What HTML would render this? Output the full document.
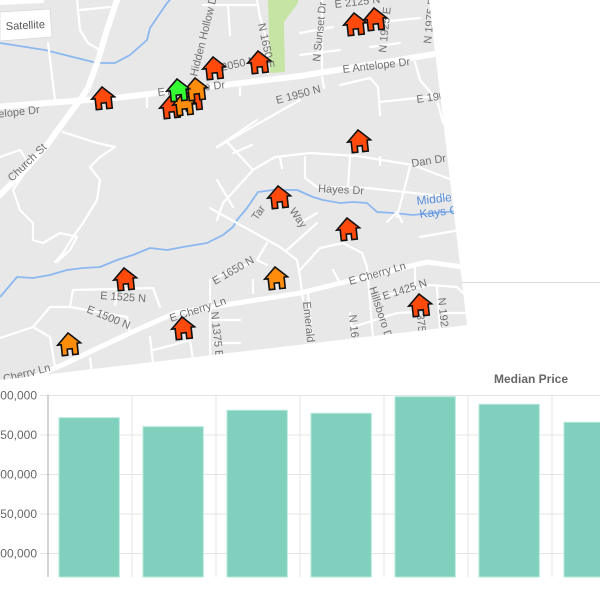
<!DOCTYPE html>
<html><head><meta charset="utf-8"><style>
html,body{margin:0;padding:0;background:#fff;width:600px;height:600px;overflow:hidden}
svg{display:block}
.ml{font-family:"Liberation Sans",sans-serif;font-size:11px;fill:#707070}
.rd{fill:none;stroke:#fff;stroke-width:2.2;stroke-linejoin:round;stroke-linecap:round}
.rw{fill:none;stroke:#fff;stroke-linejoin:round;stroke-linecap:round}
.st{fill:none;stroke:#8cb8f0;stroke-width:1.8;stroke-linejoin:round}
.h{stroke:#111;stroke-width:1.6;stroke-linejoin:miter}
.yl{font-family:"Liberation Sans",sans-serif;font-size:12px;fill:#666;text-anchor:end}
</style></head><body>
<svg width="600" height="600" viewBox="0 0 600 600" xmlns="http://www.w3.org/2000/svg">
<defs>
<clipPath id="m"><polygon points="0,0 429,0 467,325 0,380"/></clipPath>
</defs>
<rect x="0" y="0" width="600" height="600" fill="#fff"/>
<line x1="0" y1="282.5" x2="600" y2="282.5" stroke="#dcdcdc" stroke-width="1"/>

<g clip-path="url(#m)">
<rect x="0" y="0" width="600" height="600" fill="#e8e8e8"/>
<polygon points="268,0 298,0 298,3 284,22 285,72 270,73" fill="#c6e4a3"/>

<!-- streams -->
<polyline class="st" points="0,43 45,50 97,63 115,63 130,55 147,40 150,28 167,3 170,0"/>
<polyline class="st" points="0,297 17,277 33,278 50,275 67,270 83,268 100,267 117,260 133,255 150,248 167,250 183,247 207,243 223,235 233,227 237,220 247,208 258,192 273,190 297,190 313,197 323,200 340,203 353,202 367,203 377,212 393,213 413,215 433,213 470,210"/>

<!-- minor roads -->
<polyline class="rd" points="48,43 55,100"/>
<polyline class="rd" points="77,0 80,30 88,43 100,50"/>
<polyline class="rd" points="80,10 110,7"/>
<polyline class="rd" points="63,132 97,143 115,147 100,157 90,167 100,180 97,200 83,223 73,237 63,253 55,262"/>
<polyline class="rd" points="0,157 20,150 30,165 13,190 20,210 33,223 33,240 43,243 60,233 77,237 70,250 57,262"/>
<polyline class="rd" points="147,97 147,107"/>
<polyline class="rd" points="203,5 257,5"/>
<polyline class="rd" points="228,5 230,35"/>
<polyline class="rd" points="257,0 260,17 268,43 268,73"/>
<polyline class="rd" points="217,147 300,100"/>
<polyline class="rd" points="240,88 240,95"/>
<polyline class="rd" points="300,33 333,27"/>
<polyline class="rd" points="300,55 340,50"/>
<polyline class="rd" points="370,47 400,43"/>
<polyline class="rd" points="380,22 420,18"/>
<polyline class="rd" points="322,0 322,70"/>
<polyline class="rd" points="415,62 420,80 437,100 443,123"/>
<polyline class="rd" points="340,85 370,78 378,87 380,115"/>
<polyline class="rd" points="380,102 417,98 440,96"/>
<polyline class="rd" points="322,77 324,88"/>
<polyline class="rd" points="217,147 257,120"/>
<polyline class="rd" points="227,142 253,170 275,157 310,153 357,156 413,165 460,183"/>
<polyline class="rd" points="233,153 252,145"/>
<polyline class="rd" points="253,170 223,203 217,220"/>
<polyline class="rd" points="280,158 282,168"/>
<polyline class="rd" points="305,157 305,178 317,187 367,188 460,198"/>
<polyline class="rd" points="350,157 348,187"/>
<polyline class="rd" points="380,157 380,165"/>
<polyline class="rd" points="410,167 397,217"/>
<polyline class="rd" points="387,222 397,212 402,222"/>
<polyline class="rd" points="420,237 460,230"/>
<polyline class="rd" points="210,208 280,247 297,260 300,277 303,300"/>
<polyline class="rd" points="287,250 317,223"/>
<polyline class="rd" points="300,270 320,248 343,243 362,253 367,267 370,300 373,340"/>
<polyline class="rd" points="267,243 257,260 267,265"/>
<polyline class="rd" points="300,223 317,213"/>
<polyline class="rd" points="333,270 340,283"/>
<polyline class="rd" points="73,290 153,288 160,307"/>
<polyline class="rd" points="73,290 70,307 50,307 33,327 0,338"/>
<polyline class="rd" points="70,307 127,317 130,333"/>
<polyline class="rd" points="117,293 115,305"/>
<polyline class="rd" points="33,327 50,337 55,367"/>
<polyline class="rd" points="210,280 210,357"/>
<polyline class="rd" points="210,280 250,263"/>
<polyline class="rd" points="253,280 253,293"/>
<polyline class="rd" points="150,337 153,363"/>
<polyline class="rd" points="153,350 173,345 190,340 193,360"/>
<polyline class="rd" points="213,320 240,320"/>
<polyline class="rd" points="213,343 240,343"/>
<polyline class="rd" points="90,358 93,380"/>
<polyline class="rd" points="217,180 233,207"/>
<polyline class="rd" points="380,297 430,285 457,287 463,293"/>
<polyline class="rd" points="437,287 440,327"/>
<polyline class="rd" points="308,293 312,340"/>
<polyline class="rd" points="350,313 353,337"/>
<polyline class="rd" points="353,327 397,313 417,312"/>
<polyline class="rd" points="440,313 465,313"/>
<polyline class="rd" points="415,265 415,290"/>

<!-- major roads -->
<polyline class="rw" stroke-width="6" points="0,106.5 120,97.5 300,76 435,54 480,48"/>
<polyline class="rw" stroke-width="6" points="117,0 107,30 98,60 88,88 80,100 65,120 47,145 25,170 0,195"/>
<polyline class="rw" stroke-width="5" points="-10,396 60,366 130,333 175,313 300,293 427,262 470,268"/>

<!-- labels -->
<text class="ml" x="40" y="113" text-anchor="end" transform="rotate(-6.6 40 113)">E Antelope Dr</text>
<text class="ml" x="12" y="182" transform="rotate(-44 12 182)">Church St</text>
<text class="ml" x="158" y="96" transform="rotate(-6.6 158 96)">E Antelope Dr</text>
<text class="ml" x="197" y="77" transform="rotate(-76 197 77)">Hidden Hollow Dr</text>
<text class="ml" x="212" y="73" transform="rotate(-12 212 73)">E 2050 N</text>
<text class="ml" x="258" y="24" transform="rotate(78 258 24)">N 1650 E</text>
<text class="ml" x="335" y="8" transform="rotate(-6.6 335 8)">E 2125 N</text>
<text class="ml" x="320" y="62" transform="rotate(-84 320 62)">N Sunset Dr</text>
<text class="ml" x="386" y="53" transform="rotate(-84 386 53)">N 1925 E</text>
<text class="ml" x="431" y="44" transform="rotate(-84 431 44)">N 1975 E</text>
<text class="ml" x="343" y="73" transform="rotate(-6.6 343 73)">E Antelope Dr</text>
<text class="ml" x="277" y="104" transform="rotate(-15 277 104)">E 1950 N</text>
<text class="ml" x="417" y="103" transform="rotate(-8 417 103)">E 1900 N</text>
<text class="ml" x="412" y="167" transform="rotate(-9 412 167)">Dan Dr</text>
<text class="ml" x="318" y="192" transform="rotate(3 318 192)">Hayes Dr</text>
<text x="417" y="205" font-family="Liberation Sans, sans-serif" font-size="12" fill="#5a8fdc" transform="rotate(-6.6 417 205)">Middle</text>
<text x="420" y="218" font-family="Liberation Sans, sans-serif" font-size="12" fill="#5a8fdc" transform="rotate(-6.6 420 218)">Kays Creek</text>
<text class="ml" x="257" y="221" transform="rotate(-55 257 221)">Tar</text>
<text class="ml" x="289" y="211" transform="rotate(55 289 211)">Way</text>
<text class="ml" x="215" y="285" transform="rotate(-30 215 285)">E 1650 N</text>
<text class="ml" x="100" y="299" transform="rotate(4 100 299)">E 1525 N</text>
<text class="ml" x="86" y="312" transform="rotate(22 86 312)">E 1500 N</text>
<text class="ml" x="171" y="322" transform="rotate(-18 171 322)">E Cherry Ln</text>
<text class="ml" x="211" y="312" transform="rotate(84 211 312)">N 1375 E</text>
<text class="ml" x="-6" y="385" transform="rotate(-14 -6 385)">E Cherry Ln</text>
<text class="ml" x="350" y="285" transform="rotate(-16 350 285)">E Cherry Ln</text>
<text class="ml" x="384" y="300" transform="rotate(-18 384 300)">E 1425 N</text>
<text class="ml" x="303" y="302" transform="rotate(84 303 302)">Emerald</text>
<text class="ml" x="349" y="315" transform="rotate(84 349 315)">N 1600 E</text>
<text class="ml" x="369" y="288" transform="rotate(72 369 288)">Hillsboro Dr</text>
<text class="ml" x="416" y="308" transform="rotate(84 416 308)">1375 E</text>
<text class="ml" x="438" y="298" transform="rotate(84 438 298)">N 1925 E</text>

<!-- satellite button -->
<polygon points="0,0 44,0 44,3 0,5" fill="#fff"/>
<polygon points="0,12 50,9 52,37 0,41" fill="#fff" stroke="#d8d8d8" stroke-width="0.8"/>
<text x="6" y="30" font-family="Liberation Sans, sans-serif" font-size="11" fill="#555" transform="rotate(-3 6 30)">Satellite</text>
</g>

<!-- houses -->
<g id="houses">
<g transform="translate(102,87) rotate(-6)"><path class="h" fill="#ff4a0c" d="M0,0 L11.5,11 L8,11 L8,22 L2.5,22 L2.5,16 L-2.5,16 L-2.5,22 L-8,22 L-8,11 L-11.5,11 Z"/></g>
<g transform="translate(213,57) rotate(-6)"><path class="h" fill="#ff4a0c" d="M0,0 L11.5,11 L8,11 L8,22 L2.5,22 L2.5,16 L-2.5,16 L-2.5,22 L-8,22 L-8,11 L-11.5,11 Z"/></g>
<g transform="translate(258,51) rotate(-6)"><path class="h" fill="#ff4a0c" d="M0,0 L11.5,11 L8,11 L8,22 L2.5,22 L2.5,16 L-2.5,16 L-2.5,22 L-8,22 L-8,11 L-11.5,11 Z"/></g>
<g transform="translate(354,13) rotate(-6)"><path class="h" fill="#ff4a0c" d="M0,0 L11.5,11 L8,11 L8,22 L2.5,22 L2.5,16 L-2.5,16 L-2.5,22 L-8,22 L-8,11 L-11.5,11 Z"/></g>
<g transform="translate(374,8) rotate(-6)"><path class="h" fill="#ff4a0c" d="M0,0 L11.5,11 L8,11 L8,22 L2.5,22 L2.5,16 L-2.5,16 L-2.5,22 L-8,22 L-8,11 L-11.5,11 Z"/></g>
<g transform="translate(358,130) rotate(-6)"><path class="h" fill="#ff4a0c" d="M0,0 L11.5,11 L8,11 L8,22 L2.5,22 L2.5,16 L-2.5,16 L-2.5,22 L-8,22 L-8,11 L-11.5,11 Z"/></g>
<g transform="translate(278,186) rotate(-6)"><path class="h" fill="#ff4a0c" d="M0,0 L11.5,11 L8,11 L8,22 L2.5,22 L2.5,16 L-2.5,16 L-2.5,22 L-8,22 L-8,11 L-11.5,11 Z"/></g>
<g transform="translate(347,218) rotate(-6)"><path class="h" fill="#ff4a0c" d="M0,0 L11.5,11 L8,11 L8,22 L2.5,22 L2.5,16 L-2.5,16 L-2.5,22 L-8,22 L-8,11 L-11.5,11 Z"/></g>
<g transform="translate(124,268) rotate(-6)"><path class="h" fill="#ff4a0c" d="M0,0 L11.5,11 L8,11 L8,22 L2.5,22 L2.5,16 L-2.5,16 L-2.5,22 L-8,22 L-8,11 L-11.5,11 Z"/></g>
<g transform="translate(275,267) rotate(-6)"><path class="h" fill="#ff8c0a" d="M0,0 L11.5,11 L8,11 L8,22 L2.5,22 L2.5,16 L-2.5,16 L-2.5,22 L-8,22 L-8,11 L-11.5,11 Z"/></g>
<g transform="translate(182,317) rotate(-6)"><path class="h" fill="#ff4a0c" d="M0,0 L11.5,11 L8,11 L8,22 L2.5,22 L2.5,16 L-2.5,16 L-2.5,22 L-8,22 L-8,11 L-11.5,11 Z"/></g>
<g transform="translate(68,333) rotate(-6)"><path class="h" fill="#ff8c0a" d="M0,0 L11.5,11 L8,11 L8,22 L2.5,22 L2.5,16 L-2.5,16 L-2.5,22 L-8,22 L-8,11 L-11.5,11 Z"/></g>
<g transform="translate(419,294) rotate(-6)"><path class="h" fill="#ff4a0c" d="M0,0 L11.5,11 L8,11 L8,22 L2.5,22 L2.5,16 L-2.5,16 L-2.5,22 L-8,22 L-8,11 L-11.5,11 Z"/></g>
<!-- cluster -->
<g transform="translate(192,88) rotate(-6)"><path class="h" fill="#ff4a0c" d="M0,0 L11.5,11 L8,11 L8,22 L2.5,22 L2.5,16 L-2.5,16 L-2.5,22 L-8,22 L-8,11 L-11.5,11 Z"/></g>
<g transform="translate(170,96) rotate(-6)"><path class="h" fill="#ff4a0c" d="M0,0 L11.5,11 L8,11 L8,22 L2.5,22 L2.5,16 L-2.5,16 L-2.5,22 L-8,22 L-8,11 L-11.5,11 Z"/></g>
<g transform="translate(183,93) rotate(-6)"><path class="h" fill="#ff8c0a" d="M0,0 L11.5,11 L8,11 L8,22 L2.5,22 L2.5,16 L-2.5,16 L-2.5,22 L-8,22 L-8,11 L-11.5,11 Z"/></g>
<g transform="translate(195,78) rotate(-6)"><path class="h" fill="#ff8c0a" d="M0,0 L11.5,11 L8,11 L8,22 L2.5,22 L2.5,16 L-2.5,16 L-2.5,22 L-8,22 L-8,11 L-11.5,11 Z"/></g>
<g transform="translate(177,79) rotate(-6)"><path class="h" fill="#33ff33" d="M0,0 L11.5,11 L8,11 L8,22 L2.5,22 L2.5,16 L-2.5,16 L-2.5,22 L-8,22 L-8,11 L-11.5,11 Z"/></g>
</g>

<!-- chart -->
<text x="531" y="383" text-anchor="middle" font-family="Liberation Sans, sans-serif" font-size="12" font-weight="bold" fill="#666">Median Price</text>
<g stroke="#e4e4e4" stroke-width="1">
<line x1="40" y1="395.5" x2="600" y2="395.5"/>
<line x1="40" y1="435" x2="600" y2="435"/>
<line x1="40" y1="474.5" x2="600" y2="474.5"/>
<line x1="40" y1="514" x2="600" y2="514"/>
<line x1="40" y1="553.5" x2="600" y2="553.5"/>
<line x1="132" y1="395" x2="132" y2="577"/>
<line x1="216" y1="395" x2="216" y2="577"/>
<line x1="300" y1="395" x2="300" y2="577"/>
<line x1="384" y1="395" x2="384" y2="577"/>
<line x1="468" y1="395" x2="468" y2="577"/>
<line x1="552" y1="395" x2="552" y2="577"/>
</g>
<line x1="48" y1="395" x2="48" y2="577" stroke="#aaa" stroke-width="1"/>
<text class="yl" x="37" y="399.5">$300,000</text>
<text class="yl" x="37" y="439">$250,000</text>
<text class="yl" x="37" y="478.5">$200,000</text>
<text class="yl" x="37" y="518">$150,000</text>
<text class="yl" x="37" y="557.5">$100,000</text>
<g fill="#80d0bd" stroke="#b4e8da" stroke-width="1">
<rect x="59" y="417.7" width="60.3" height="159.3"/>
<rect x="143" y="426.7" width="60.3" height="150.3"/>
<rect x="227" y="410.3" width="60.3" height="166.7"/>
<rect x="311" y="413.3" width="60.3" height="163.7"/>
<rect x="395" y="396.7" width="60.3" height="180.3"/>
<rect x="479" y="404.3" width="60.3" height="172.7"/>
<rect x="564" y="422.3" width="60.3" height="154.7"/>
</g>
</svg>
</body></html>
